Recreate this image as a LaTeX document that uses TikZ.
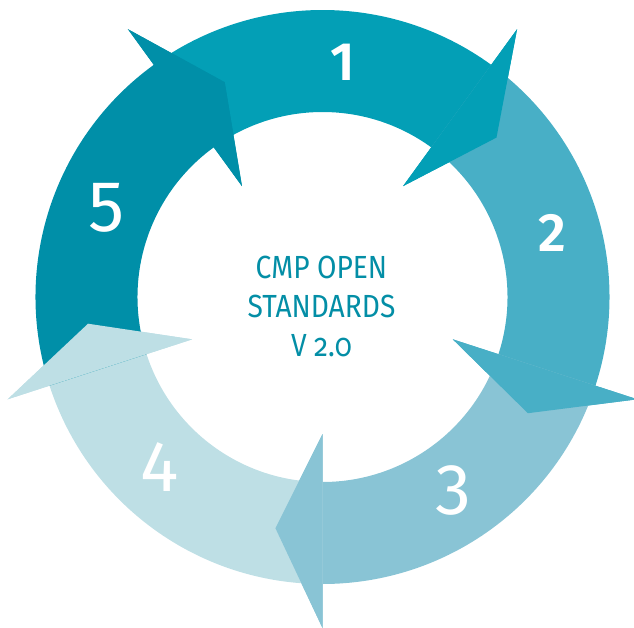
\documentclass[tikz,border=0pt]{standalone}
\usepackage{fontspec}
\setmainfont{Fira Sans}
\newfontfamily\titlefont[FakeStretch=0.88]{Fira Sans}
\newfontfamily\heavynumfont{Fira Sans SemiBold}
\definecolor{stepA}{RGB}{3,159,182}
\definecolor{stepB}{RGB}{72,175,198}
\definecolor{stepC}{RGB}{137,196,213}
\definecolor{stepD}{RGB}{190,223,229}
\definecolor{stepE}{RGB}{0,143,168}
\definecolor{titlecol}{RGB}{3,142,166}
\tikzset{
  numlabel/.style={text=white, inner sep=0pt, anchor=center},
  bignum/.style={numlabel, font=\heavynumfont\fontsize{54}{54}\selectfont},
  thinnum/.style={numlabel, font=\fontsize{72}{72}\selectfont},
  titletext/.style={text=titlecol, align=center, inner sep=0pt,
    font=\titlefont\fontsize{32}{39}\selectfont}
}
\begin{document}
\begin{tikzpicture}[x=1pt,y=1pt]
\useasboundingbox (-322.5,297) rectangle (311.5,-330);
% ring radii, head geometry
\def\Ro{287}\def\Ri{185}\def\Rm{236}\def\Rb{331}\def\Rc{137}\def\hl{11.5}
% each arrow: arc body from the previous head base, ending in its own head
\foreach \s/\e/\c in {126/54/stepA, 54/-18/stepB, -18/-90/stepC, -90/-162/stepD, -162/-234/stepE}
  \fill[\c] (\s:\Ro) arc[start angle=\s, end angle=\e, radius=\Ro]
    -- (\e:\Rb) -- (\e-\hl:\Rm) -- (\e:\Rc)
    -- (\e:\Ri) arc[start angle=\e, end angle=\s, radius=\Ri] -- cycle;
% heads again, over the tail of the next arrow
\foreach \b/\c in {54/stepA, -18/stepB, -90/stepC, -162/stepD, 126/stepE}
  \fill[\c] (\b:\Rb) -- (\b-\hl:\Rm) -- (\b:\Rc) -- cycle;
% step numbers
\node[bignum] (n1) at (20.5,235) {1};
\node[bignum] (n2) at (229.5,64) {2};
\node[thinnum] (n3) at (130.5,-193) {3};
\node[thinnum] (n4) at (-162.5,-170) {4};
\node[thinnum] (n5) at (-215.5,89) {5};
% centre title
\node[titletext] (title) at (-1,-9) {CMP OPEN\\STANDARDS\\V {\addfontfeatures{Numbers=OldStyle}2.0}};
\end{tikzpicture}
\end{document}
